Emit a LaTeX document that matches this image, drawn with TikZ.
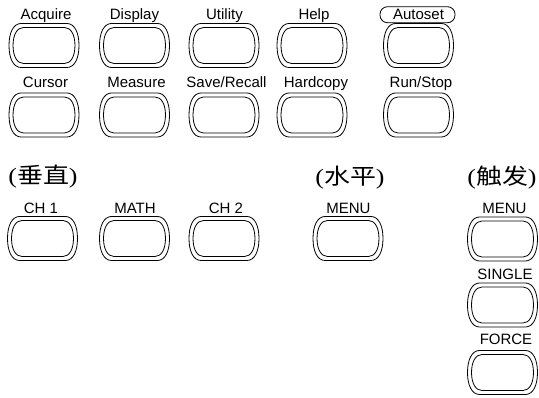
\documentclass[tikz,border=0pt]{standalone}
\usepackage{fontspec}
\setmainfont{Liberation Sans}
\newfontfamily\cjkfont{Noto Sans CJK SC}
\newfontfamily\parenfont{Liberation Serif}
\tikzset{
  btnline/.style={line width=0.8pt, line join=round},
  btnpath/.pic={
    \draw[btnline] (-23,-22) -- (23,-22)
      .. controls (30.5,-22) and (35,-13) .. (35,0)
      .. controls (35,13) and (30.5,22) .. (23,22) -- (-23,22)
      .. controls (-30.5,22) and (-35,13) .. (-35,0)
      .. controls (-35,-13) and (-30.5,-22) .. (-23,-22) -- cycle;
  },
  btn/.pic={
    \pic {btnpath};
    \pic[xscale=0.885, yscale=0.82] {btnpath};
  },
  lbl/.style={font=\fontsize{15}{17}\selectfont, anchor=base, inner sep=0pt},
  head/.style={font=\fontsize{22}{26}\selectfont, inner sep=0pt, xscale=1.18},
  autoframe/.style={draw, line width=0.8pt, rounded corners=7.5pt, minimum width=75pt, minimum height=16pt, inner sep=0pt}
}
\begin{document}
\begin{tikzpicture}[x=1pt, y=-1pt]
\useasboundingbox (0,0) rectangle (539,398);
% row 1
\pic (bacq) at (44,45.5) {btn};
\pic (bdisp) at (134.5,45.5) {btn};
\pic (butil) at (224,45.5) {btn};
\pic (bhelp) at (312,45.5) {btn};
\pic (bauto) at (418.5,45.5) {btn};
\node[lbl] (lacq) at (46,19.5) {Acquire};
\node[lbl] (ldisp) at (134.5,19.5) {Display};
\node[lbl] (lutil) at (224.5,19.5) {Utility};
\node[lbl] (lhelp) at (314,19.5) {Help};
\node[autoframe] (fauto) at (417.5,14.7) {};
\node[lbl] (lauto) at (418.5,19.5) {Autoset};
% row 2
\pic (bcur) at (44,115) {btn};
\pic (bmeas) at (134.5,115) {btn};
\pic (bsave) at (224,115) {btn};
\pic (bhard) at (312,115) {btn};
\pic (brun) at (418.5,115) {btn};
\node[lbl] (lcur) at (45.5,88) {Cursor};
\node[lbl] (lmeas) at (136.5,88) {Measure};
\node[lbl] (lsave) at (226.5,88) {Save/Recall};
\node[lbl] (lhard) at (316,88) {Hardcopy};
\node[lbl] (lrun) at (421,88) {Run/Stop};
% headings
\node[head] (hvert) at (43,177) {{\parenfont(}{\cjkfont 垂直}{\parenfont)}};
\node[head] (hhor) at (350,177.5) {{\parenfont(}{\cjkfont 水平}{\parenfont)}};
\node[head] (htrig) at (502,177.5) {{\parenfont(}{\cjkfont 触发}{\parenfont)}};
% row 3
\pic (bch1) at (42.5,238.5) {btn};
\pic (bmath) at (134.5,238.5) {btn};
\pic (bch2) at (224,238.5) {btn};
\pic (bhmenu) at (348,238.5) {btn};
\node[lbl] (lch1) at (41,213.5) {CH 1};
\node[lbl] (lmath) at (135,213.5) {MATH};
\node[lbl] (lch2) at (226,213.5) {CH 2};
\node[lbl] (lhmenu) at (348.5,213.5) {MENU};
% trigger
\pic (btmenu) at (502.5,239) {btn};
\pic (bsingle) at (502.5,305) {btn};
\pic (bforce) at (502.5,372.5) {btn};
\node[lbl] (ltmenu) at (504.5,213.5) {MENU};
\node[lbl] (lsingle) at (505,280) {SINGLE};
\node[lbl] (lforce) at (506,345) {FORCE};
\end{tikzpicture}
\end{document}
